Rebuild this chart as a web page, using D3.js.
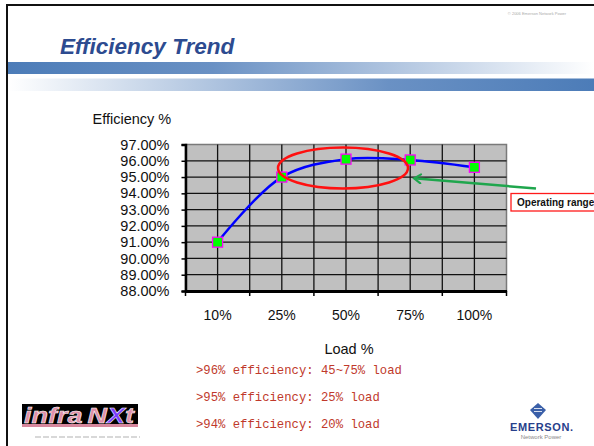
<!DOCTYPE html>
<html>
<head>
<meta charset="utf-8">
<script src="https://cdn.jsdelivr.net/npm/d3@7"></script>
<style>
  body { margin: 0; background: #fff; }
  svg { display: block; }
</style>
</head>
<body>
<svg id="slide" width="594" height="446"></svg>
<script>
// chart data
var loads = ["10%", "25%", "50%", "75%", "100%"];
var efficiency = [91.0, 95.0, 96.1, 96.05, 95.6];
var yTicks = [88, 89, 90, 91, 92, 93, 94, 95, 96, 97];
var notes = [">96% efficiency: 45~75% load", ">95% efficiency: 25% load", ">94% efficiency: 20% load"];

var svg = d3.select("#slide");
var W = 594, H = 446;
var sans = "'Liberation Sans', Arial, sans-serif";

var defs = svg.append("defs");
var g1 = defs.append("linearGradient").attr("id", "barL");
g1.append("stop").attr("offset", "0").attr("stop-color", "#4c7cb8");
g1.append("stop").attr("offset", "0.35").attr("stop-color", "#6a91c4");
g1.append("stop").attr("offset", "1").attr("stop-color", "#ffffff");
var g2 = defs.append("linearGradient").attr("id", "barR");
g2.append("stop").attr("offset", "0").attr("stop-color", "#ffffff");
g2.append("stop").attr("offset", "0.65").attr("stop-color", "#6a91c4");
g2.append("stop").attr("offset", "1").attr("stop-color", "#4c7cb8");
defs.append("marker").attr("id", "arrowG")
  .attr("viewBox", "0 0 10 10").attr("refX", 8).attr("refY", 5)
  .attr("markerWidth", 4.5).attr("markerHeight", 4.5).attr("orient", "auto")
  .append("path").attr("d", "M2,1 L8,5 L2,9").attr("fill", "none")
  .attr("stroke", "#1fa64d").attr("stroke-width", 1.8).attr("stroke-linecap", "round");

// slide frame
svg.append("line").attr("x1", 6).attr("y1", 5).attr("x2", W).attr("y2", 5)
  .attr("stroke", "#111").attr("stroke-width", 2);
svg.append("line").attr("x1", 7).attr("y1", 4).attr("x2", 7).attr("y2", H)
  .attr("stroke", "#111").attr("stroke-width", 2);

svg.append("text").attr("x", 537).attr("y", 15).attr("text-anchor", "middle")
  .attr("font-family", sans).attr("font-size", 4).attr("fill", "#aaa")
  .text("© 2006 Emerson Network Power");

svg.append("text").attr("x", 60).attr("y", 53.5)
  .attr("font-family", sans).attr("font-size", 22.5).attr("font-weight", "bold")
  .attr("font-style", "italic").attr("fill", "#2d4b90").text("Efficiency Trend");

svg.append("rect").attr("x", 8).attr("y", 62).attr("width", W - 8).attr("height", 12).attr("fill", "url(#barL)");
svg.append("rect").attr("x", 8).attr("y", 78.5).attr("width", W - 8).attr("height", 12.5).attr("fill", "url(#barR)");

// plot
var plotL = 185.5, plotR = 506.5, plotT = 144.5, plotB = 291;
var x = d3.scaleBand().domain(loads).range([plotL, plotR]).paddingInner(0).paddingOuter(0);
var y = d3.scaleLinear().domain([88, 97]).range([plotB, plotT]);
var cx = function(d) { return x(d) + x.bandwidth() / 2; };

var plot = svg.append("g");
plot.append("rect").attr("x", plotL).attr("y", plotT).attr("width", plotR - plotL).attr("height", plotB - plotT)
  .attr("fill", "#c0c0c0").attr("stroke", "#7a7a7a").attr("stroke-width", 1.5);

var vLines = [];
loads.forEach(function(d) { vLines.push(x(d)); vLines.push(cx(d)); });
plot.selectAll("line.v").data(vLines.slice(1)).enter().append("line")
  .attr("x1", function(d) { return d; }).attr("x2", function(d) { return d; })
  .attr("y1", plotT).attr("y2", plotB).attr("stroke", "#111").attr("stroke-width", 1.3);
plot.selectAll("line.h").data(yTicks.slice(1, -1)).enter().append("line")
  .attr("x1", plotL).attr("x2", plotR)
  .attr("y1", function(d) { return y(d); }).attr("y2", function(d) { return y(d); })
  .attr("stroke", "#111").attr("stroke-width", 1.3);

var yAxis = plot.append("g").attr("transform", "translate(" + plotL + ",0)")
  .call(d3.axisLeft(y).tickValues(yTicks).tickSize(4).tickPadding(12)
    .tickFormat(function(d) { return d.toFixed(2) + "%"; }));
yAxis.select(".domain").attr("stroke", "#000").attr("stroke-width", 2.5);
yAxis.selectAll(".tick line").attr("stroke", "#000").attr("stroke-width", 1.5);
yAxis.selectAll("text").attr("font-family", sans).attr("font-size", 14.5).attr("fill", "#111");

var xAxis = plot.append("g").attr("transform", "translate(0," + plotB + ")")
  .call(d3.axisBottom(x).tickSize(0).tickPadding(19));
xAxis.select(".domain").attr("stroke", "#000").attr("stroke-width", 3);
xAxis.selectAll("text").attr("font-family", sans).attr("font-size", 14).attr("fill", "#111");
xAxis.selectAll("line.edge").data(loads.map(function(d) { return x(d); }).concat([plotR]))
  .enter().append("line").attr("class", "edge")
  .attr("x1", function(d) { return d; }).attr("x2", function(d) { return d; })
  .attr("y1", 0).attr("y2", 5).attr("stroke", "#000").attr("stroke-width", 1.5);

svg.append("text").attr("x", 92.5).attr("y", 124).attr("font-family", sans)
  .attr("font-size", 14.5).attr("fill", "#111").text("Efficiency %");
svg.append("text").attr("x", 349).attr("y", 353.5).attr("text-anchor", "middle")
  .attr("font-family", sans).attr("font-size", 14.5).attr("fill", "#111").text("Load %");

// series
var pts = loads.map(function(d, i) { return [cx(d), y(efficiency[i])]; });
plot.append("path").attr("d", d3.line().curve(d3.curveCatmullRom.alpha(0.5))(pts))
  .attr("fill", "none").attr("stroke", "#0000ff").attr("stroke-width", 2.5);
plot.selectAll("rect.pt").data(pts).enter().append("rect")
  .attr("x", function(d) { return d[0] - 5; }).attr("y", function(d) { return d[1] - 5; })
  .attr("width", 10).attr("height", 10).attr("fill", "#00ff00")
  .attr("stroke", "#ff00ff").attr("stroke-width", 1.3);

// annotations
svg.append("ellipse").attr("cx", 343).attr("cy", 168).attr("rx", 65).attr("ry", 20.5)
  .attr("fill", "none").attr("stroke", "#ff1010").attr("stroke-width", 2.5);
svg.append("line").attr("x1", 536).attr("y1", 188.5).attr("x2", 414).attr("y2", 178.3)
  .attr("stroke", "#1fa64d").attr("stroke-width", 2.5).attr("marker-end", "url(#arrowG)");
svg.append("rect").attr("x", 511).attr("y", 193.5).attr("width", 90).attr("height", 17.5)
  .attr("fill", "#fff").attr("stroke", "#ff1a1a").attr("stroke-width", 1.3);
svg.append("text").attr("x", 517).attr("y", 206).attr("font-family", sans)
  .attr("font-size", 10).attr("font-weight", "bold").attr("fill", "#111").text("Operating range");

svg.selectAll("text.note").data(notes).enter().append("text").attr("class", "note")
  .attr("x", 196).attr("y", function(d, i) { return 373.5 + i * 27; })
  .attr("font-family", "'Liberation Mono', 'DejaVu Sans Mono', monospace")
  .attr("font-size", 12.25).attr("fill", "#c0392b").text(function(d) { return d; });

// logos
var logo = svg.append("g");
logo.append("rect").attr("x", 22).attr("y", 404).attr("width", 116).attr("height", 23).attr("fill", "#000");
logo.append("rect").attr("x", 22).attr("y", 424).attr("width", 116).attr("height", 3).attr("fill", "#d7879d");
logo.append("text").attr("x", 24).attr("y", 423).attr("font-family", sans).attr("font-size", 22)
  .attr("font-weight", "bold").attr("font-style", "italic").attr("fill", "#e08fa8")
  .attr("stroke", "#fff").attr("stroke-width", 0.5)
  .attr("textLength", 110).attr("lengthAdjust", "spacingAndGlyphs")
  .html('infra<tspan dx="4">N</tspan><tspan fill="#7a3cff">X</tspan>t');
logo.append("line").attr("x1", 35).attr("y1", 437).attr("x2", 140).attr("y2", 437)
  .attr("stroke", "#ccc").attr("stroke-width", 1.5).attr("stroke-dasharray", "6,2");

var em = svg.append("g");
em.append("path").attr("d", "M538,403 L546,410 L538,419 L530,410 Z").attr("fill", "#3a5fa8");
em.append("path").attr("d", "M534,408.5 L542,408.5 M534,411.5 L542,411.5").attr("stroke", "#fff").attr("stroke-width", 0.8);
em.append("text").attr("x", 510).attr("y", 430.5).attr("font-family", sans)
  .attr("font-size", 11).attr("font-weight", "bold").attr("fill", "#27408b")
  .attr("textLength", 63).text("EMERSON.");
em.append("text").attr("x", 541).attr("y", 439).attr("text-anchor", "middle").attr("font-family", sans)
  .attr("font-size", 6).attr("fill", "#888").text("Network Power");
</script>
</body>
</html>
